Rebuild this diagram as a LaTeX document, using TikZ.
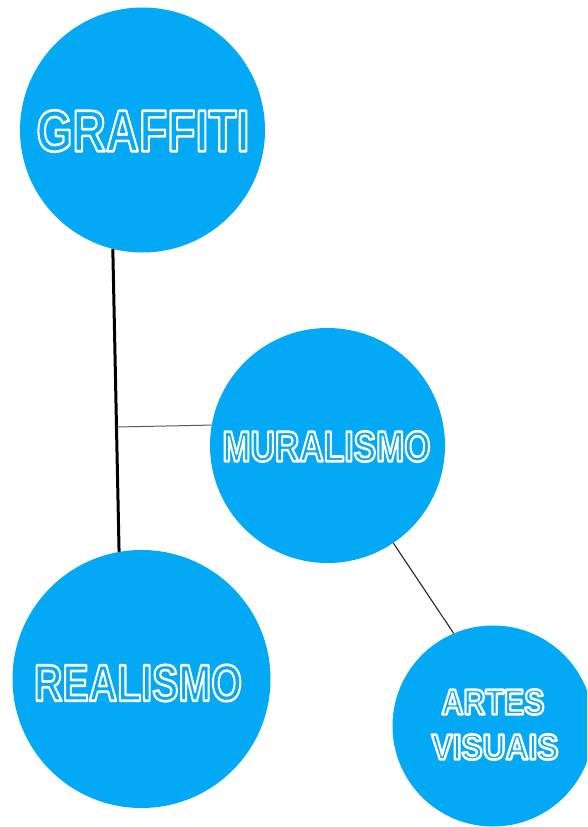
\documentclass[tikz,border=0pt]{standalone}
\usepackage{fontspec}
\setmainfont{Liberation Sans}
\usepackage{graphicx}
\definecolor{disc}{RGB}{3,169,244}
\definecolor{linkgray}{RGB}{90,90,90}
% outlined label: letters filled in the current colour and stroked in white
% (text render mode 2), fitted to a given width and cap height
\newcommand{\rimtext}[4]{%
  \resizebox{#1}{#2}{\fontsize{#3}{#3}\selectfont\bfseries
    \special{pdf:literal direct q 2 Tr 1 1 1 RG 2.5 w 1 j}#4\special{pdf:literal direct Q}}}
\tikzset{
  disc/.style={circle, fill=disc, draw=none, inner sep=0pt, minimum size=#1},
  lbl/.style={text=disc, inner sep=0pt, align=center},
  trunk/.style={draw=black, line width=3pt},
  twig/.style={draw=linkgray, line width=1pt},
  spur/.style={draw=black!85, line width=1.1pt}
}
\begin{document}
\begin{tikzpicture}[x=1pt, y=-1pt]
  \useasboundingbox (0,0) rectangle (587,827);
  \clip (0,0) rectangle (587,827);

  % circles
  \node[disc=245pt] (g) at (142.5,130) {};
  \node[disc=235pt] (m) at (327.5,445.5) {};
  \node[disc=258pt] (r) at (141.5,679) {};
  \node[disc=201pt] (a) at (493,726) {};

  % labels
  \node[lbl] (gt) at (143,131) {\rimtext{213pt}{41pt}{56pt}{GRAFFITI}};
  \node[lbl] (mt) at (326.5,446.5) {\rimtext{208pt}{30pt}{41pt}{MURALISMO}};
  \node[lbl] (rt) at (138,683) {\rimtext{208pt}{36pt}{49pt}{REALISMO}};
  \node[lbl] (at1) at (493,702) {\rimtext{103pt}{25pt}{34pt}{ARTES}};
  \node[lbl] (at2) at (495,747) {\rimtext{127pt}{25pt}{34pt}{VISUAIS}};

  % connectors
  \coordinate (j) at (117,427);
  \draw[trunk] (g.256.8) -- (r.100.5);
  \draw[twig] (j) -- (m.170.9);
  \draw[spur] (m.-56.2) -- (a.113.8);
\end{tikzpicture}
\end{document}
